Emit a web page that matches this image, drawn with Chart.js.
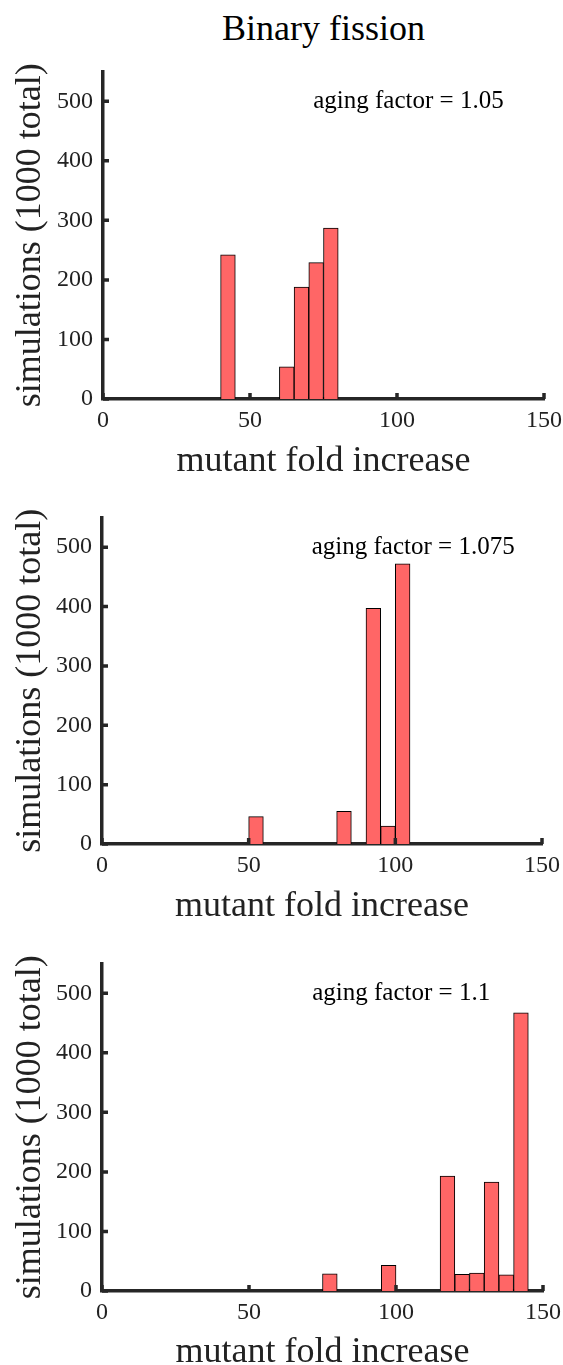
<!DOCTYPE html>
<html lang="en">
<head>
<meta charset="UTF-8" />
<title>Binary fission</title>
<script src="https://cdn.jsdelivr.net/npm/chart.js@4.4.0/dist/chart.umd.min.js"></script>
<style>
  html, body { margin: 0; padding: 0; background: #fff; overflow: hidden; }
  body { width: 563px; height: 1365px; position: relative; }
  #title {
    position: absolute; left: 103px; width: 441px; top: 10px;
    text-align: center; font: 36px/36px "Liberation Serif", serif; color: #000;
  }
  canvas { position: absolute; left: 0; }
</style>
</head>
<body>
<div id="title">Binary fission</div>
<canvas id="chart1" width="563" height="440" style="top:50px"></canvas>
<canvas id="chart2" width="563" height="440" style="top:495px"></canvas>
<canvas id="chart3" width="563" height="440" style="top:941px"></canvas>

<script>
// histogram bins (left edge of each 5-wide bin) and simulation counts
const binWidth = 5;
const notes = ["aging factor = 1.05", "aging factor = 1.075", "aging factor = 1.1"];

const bins105 = [40, 60, 65, 70, 75];
const counts105 = [242, 54, 188, 229, 287];

const bins1075 = [50, 80, 90, 95, 100];
const counts1075 = [46, 55, 397, 30, 472];

const bins11 = [75, 95, 115, 120, 125, 130, 135, 140];
const counts11 = [29, 43, 193, 28, 30, 183, 27, 467];

const xMax = 150, xStep = 50;
const yMax = 550, yStep = 100, yLastTick = 500;
const noteAt = { x: 71.5, y: 500 };

const axisColor = "#262626";
const barFill = "rgb(255, 102, 102)";
const fontFamily = "'Liberation Serif', serif";

// plot area of each canvas (pixels inside the canvas)
const boxes = [
  { left: 103, right: 544, top: 21.5, bottom: 349 },
  { left: 102, right: 542, top: 22.5, bottom: 349 },
  { left: 102, right: 543, top: 22.5, bottom: 350 },
];

// MATLAB-style inward tick marks plus the text note
const inwardTicks = {
  id: "inwardTicks",
  afterDraw(chart, args, opts) {
    const { ctx, chartArea, scales: { x, y } } = chart;
    ctx.save();
    ctx.strokeStyle = axisColor;
    ctx.lineWidth = 3.5;
    ctx.beginPath();
    x.ticks.forEach((t) => {
      const px = x.getPixelForValue(t.value);
      ctx.moveTo(px, chartArea.bottom);
      ctx.lineTo(px, chartArea.bottom - 6);
    });
    y.ticks.forEach((t) => {
      const py = y.getPixelForValue(t.value);
      ctx.moveTo(chartArea.left, py);
      ctx.lineTo(chartArea.left + 6, py);
    });
    ctx.stroke();

    ctx.fillStyle = "#000";
    ctx.font = "25px " + fontFamily;
    ctx.textAlign = "left";
    ctx.textBaseline = "middle";
    ctx.fillText(opts.note, x.getPixelForValue(noteAt.x), y.getPixelForValue(noteAt.y));
    ctx.restore();
  },
};

function makeChart(id, bins, counts, note, box) {
  const H = 440;
  return new Chart(document.getElementById(id), {
    type: "bar",
    data: {
      datasets: [{
        data: bins.map((b, i) => ({ x: b + binWidth / 2, y: counts[i] })),
        backgroundColor: barFill,
        borderColor: "#000",
        borderWidth: 1,
        barPercentage: 1,
        categoryPercentage: 1,
      }],
    },
    options: {
      responsive: false,
      animation: false,
      layout: { padding: { left: 0, top: box.top, right: 563 - box.right, bottom: 0 } },
      plugins: {
        legend: { display: false },
        tooltip: { enabled: false },
        inwardTicks: { note: note },
      },
      scales: {
        x: {
          type: "linear",
          min: 0,
          max: xMax,
          offset: false,
          z: 1,
          grid: { display: false, offset: false, drawTicks: false },
          border: { display: true, color: axisColor, width: 3.5 },
          ticks: { stepSize: xStep, padding: 7, color: "#222", font: { family: fontFamily, size: 24 } },
          title: {
            display: true,
            text: "mutant fold increase",
            color: "#222",
            font: { family: fontFamily, size: 36 },
            padding: { top: 0, bottom: 7 },
          },
          afterFit: (s) => {
            s.height = H - box.bottom;
            s.paddingLeft = 0;
            s.paddingRight = 0;
          },
        },
        y: {
          min: 0,
          max: yMax,
          z: 1,
          grid: { display: false, drawTicks: false },
          border: { display: true, color: axisColor, width: 3.5 },
          ticks: { stepSize: yStep, padding: 10, color: "#222", font: { family: fontFamily, size: 24 } },
          afterBuildTicks: (s) => { s.ticks = s.ticks.filter((t) => t.value <= yLastTick); },
          title: {
            display: true,
            text: "simulations (1000 total)",
            color: "#222",
            font: { family: fontFamily, size: 36 },
            padding: { top: 9, bottom: 0 },
          },
          afterFit: (s) => {
            s.width = box.left;
            s.paddingTop = 0;
            s.paddingBottom = 0;
          },
        },
      },
    },
    plugins: [inwardTicks],
  });
}

makeChart("chart1", bins105, counts105, notes[0], boxes[0]);
makeChart("chart2", bins1075, counts1075, notes[1], boxes[1]);
makeChart("chart3", bins11, counts11, notes[2], boxes[2]);
</script>
</body>
</html>
